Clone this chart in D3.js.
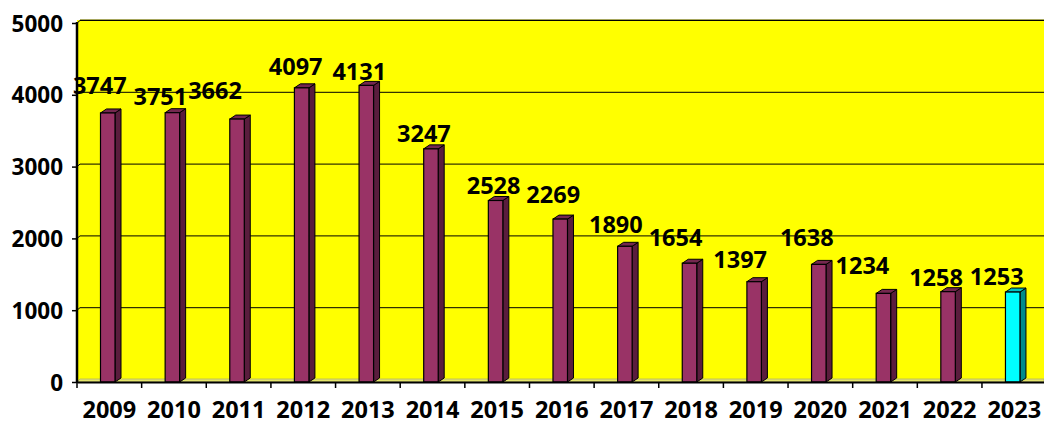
<!DOCTYPE html>
<meta charset="utf-8">
<style>
body { margin: 0; background: #fff; }
text { font-family: "Open Sans", "Liberation Sans", sans-serif; font-weight: 700; fill: #000; }
</style>
<body>
<script src="https://d3js.org/d3.v7.min.js"></script>
<script>

// chart data
var years  = ["2009","2010","2011","2012","2013","2014","2015","2016","2017","2018","2019","2020","2021","2022","2023"];
var values = [3747, 3751, 3662, 4097, 4131, 3247, 2528, 2269, 1890, 1654, 1397, 1638, 1234, 1258, 1253];
var yTicks = [0, 1000, 2000, 3000, 4000, 5000];

// label nudges as Excel placed them: [dx, gap above bar]
var labelShift = [[-8,19],[-12,8],[-22,20],[-6,13],[-7,5],[-7,7],[-2,6],[-7,16],
                  [-9,13],[-14,17],[-14,14],[-12,18],[-21,19],[-12,6],[-16,7]];

var W = 1044, H = 425;
var plotLeft = 77, plotBottom = 382, plotTop = 23;
var dx = 6, dy = 4;       // 3d depth
var wallDx = 3, wallDy = 3;

var svg = d3.select("body").append("svg")
    .attr("width", W).attr("height", H);

var x = d3.scaleBand().domain(years).range([plotLeft, plotLeft + 64.64 * 15]);
var y = d3.scaleLinear().domain([0, 5000]).range([plotBottom, plotTop]);

// yellow walls
svg.append("rect")
    .attr("x", plotLeft).attr("y", y(5000) - wallDy)
    .attr("width", W - plotLeft).attr("height", plotBottom - y(5000) + wallDy)
    .attr("fill", "#ffff00");

// top edge of back wall
svg.append("line")
    .attr("x1", plotLeft + wallDx).attr("x2", W)
    .attr("y1", y(5000) - wallDy).attr("y2", y(5000) - wallDy)
    .attr("stroke", "#8a8a2a").attr("stroke-width", 1.5);

// gridlines on back wall
yTicks.filter(function(d) { return d > 0; }).forEach(function(t) {
  var yy = y(t) - wallDy + 0.5;
  svg.append("line")
      .attr("x1", plotLeft + wallDx).attr("x2", W)
      .attr("y1", yy).attr("y2", yy)
      .attr("stroke", "#000").attr("stroke-width", 1);
  svg.append("line")
      .attr("x1", plotLeft).attr("x2", plotLeft + wallDx)
      .attr("y1", y(t)).attr("y2", yy)
      .attr("stroke", "#000").attr("stroke-width", 1);
});

// floor
svg.append("path")
    .attr("d", "M" + plotLeft + "," + plotBottom + "L" + (plotLeft + wallDx) + "," + (plotBottom - wallDy) +
               "L" + W + "," + (plotBottom - wallDy) + "L" + W + "," + plotBottom + "Z")
    .attr("fill", "#e5e56a").attr("stroke", "#b0b070").attr("stroke-width", 0.8);

// bars
var bw = 14.5, off = 23.5;
var g = svg.append("g").selectAll("g").data(values).join("g");

g.each(function(v, i) {
  var el = d3.select(this);
  var last = i === values.length - 1;
  var cFront = last ? "#00ffff" : "#993366",
      cSide  = last ? "#008b8b" : "#5a1d3d",
      cTop   = last ? "#00c4c4" : "#74284f";
  var x0 = x(years[i]) + off, x1 = x0 + bw, yt = y(v);
  el.append("path")
      .attr("d", "M" + x1 + "," + yt + "L" + (x1 + dx) + "," + (yt - dy) + "L" + (x1 + dx) + "," + (plotBottom - dy) + "L" + x1 + "," + plotBottom + "Z")
      .attr("fill", cSide).attr("stroke", "#000").attr("stroke-width", 1);
  el.append("path")
      .attr("d", "M" + x0 + "," + yt + "L" + (x0 + dx) + "," + (yt - dy) + "L" + (x1 + dx) + "," + (yt - dy) + "L" + x1 + "," + yt + "Z")
      .attr("fill", cTop).attr("stroke", "#000").attr("stroke-width", 1);
  el.append("rect")
      .attr("x", x0).attr("y", yt).attr("width", bw).attr("height", plotBottom - yt)
      .attr("fill", cFront).attr("stroke", "#000").attr("stroke-width", 1.2);
});

// data labels
svg.append("g").selectAll("text").data(values).join("text")
    .attr("x", function(d, i) { return x(years[i]) + off + bw / 2 + labelShift[i][0]; })
    .attr("y", function(d, i) { return y(d) - labelShift[i][1]; })
    .attr("text-anchor", "middle")
    .style("font-size", "23.5px")
    .text(function(d) { return d; });

// y axis
var yAxis = svg.append("g")
    .attr("transform", "translate(" + plotLeft + ",0)")
    .call(d3.axisLeft(y).tickValues(yTicks).tickFormat(d3.format("d")).tickSize(5).tickPadding(9));
yAxis.select(".domain").attr("stroke", "#000").attr("stroke-width", 2.5)
    .attr("d", "M0," + (plotBottom + 1) + "V" + (y(5000) - 1));
yAxis.selectAll(".tick line").attr("stroke-width", 1.5);
yAxis.selectAll("text").style("font-size", "22.5px").attr("dy", "0.36em");

// x axis
var xAxis = svg.append("g")
    .attr("transform", "translate(0," + plotBottom + ")")
    .call(d3.axisBottom(x).tickSize(0).tickPadding(19));
xAxis.select(".domain").attr("stroke", "#000").attr("stroke-width", 2);
xAxis.selectAll("text").style("font-size", "23.5px");
years.forEach(function(yr) {
  xAxis.append("line")
      .attr("x1", x(yr)).attr("x2", x(yr)).attr("y1", 0).attr("y2", 6)
      .attr("stroke", "#000").attr("stroke-width", 1.5);
});

</script>
</body>
